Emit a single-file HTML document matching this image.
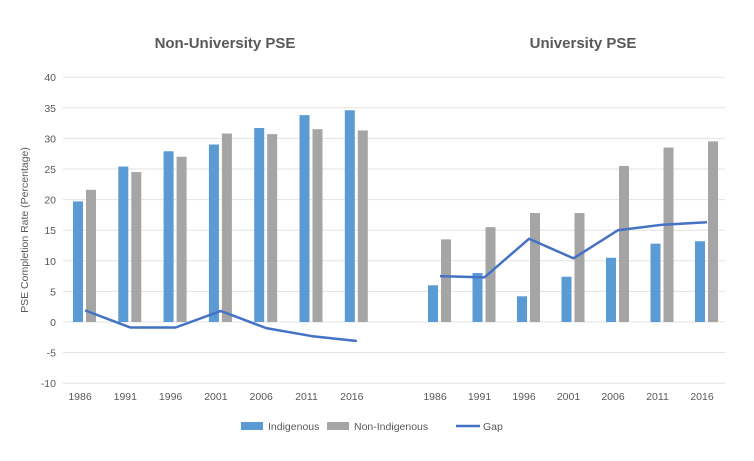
<!DOCTYPE html>
<html><head><meta charset="utf-8"><style>
body{margin:0;background:#fff;font-family:"Liberation Sans",sans-serif}
svg text{font-family:"Liberation Sans",sans-serif}
</style></head><body>
<svg width="754" height="456">
<script>
var categories=["1986","1991","1996","2001","2006","2011","2016"];
var nonUniIndig=[19.7,25.4,27.9,29.0,31.7,33.8,34.6];
var nonUniNon=[21.6,24.5,27.0,30.8,30.7,31.5,31.3];
var nonUniGap=[1.9,-0.9,-0.9,1.8,-1.0,-2.3,-3.1];
var uniIndig=[6.0,8.0,4.2,7.4,10.5,12.8,13.2];
var uniNon=[13.5,15.5,17.8,17.8,25.5,28.5,29.5];
var uniGap=[7.5,7.3,13.6,10.4,15.0,15.9,16.3];
var yTicks=[40,35,30,25,20,15,10,5,0,-5,-10];
</script>
<text x="225" y="48" text-anchor="middle" font-size="15" font-weight="bold" fill="#595959">Non-University PSE</text>
<text x="583" y="48" text-anchor="middle" font-size="15" font-weight="bold" fill="#595959">University PSE</text>
<text transform="translate(28,230) rotate(-90)" text-anchor="middle" font-size="10.5" fill="#595959">PSE Completion Rate (Percentage)</text>
<g id="grid"></g><g id="bars"></g><g id="lines"></g><g id="labels"></g>
<g font-size="10.5" fill="#595959">
<rect x="241" y="422" width="22" height="8" fill="#5b9bd5"/>
<text x="268" y="430">Indigenous</text>
<rect x="327" y="422" width="22" height="8" fill="#a5a5a5"/>
<text x="354" y="430">Non-Indigenous</text>
<line x1="456" y1="426" x2="480" y2="426" stroke="#4472c4" stroke-width="2.5"/>
<text x="483" y="430">Gap</text>
</g>
<script>
var NS="http://www.w3.org/2000/svg";
function y(v){return 322-v*6.12;}
function xl(i){return 85+i*45.3;}
function xr(i){return 440+i*44.5;}
function mk(t,a,p){var e=document.createElementNS(NS,t);for(var k in a)e.setAttribute(k,a[k]);document.getElementById(p).appendChild(e);return e;}
yTicks.forEach(function(t){
 var l=mk("line",{x1:63,x2:725,y1:y(t),y2:y(t),stroke:"#e3e3e3","stroke-width":1},"grid");
 
 
 var tx=mk("text",{x:56,y:y(t)+4,"text-anchor":"end","font-size":"10.5",fill:"#595959"},"labels");
 tx.textContent=t;
 
 
});
function bars(vals,xf,off,col,name){
 vals.forEach(function(v,i){
  var r=mk("rect",{x:xf(i)+off,y:Math.min(y(v),y(0)),width:10,height:Math.abs(y(v)-y(0)),fill:col},"bars");
  
  
 });
}
bars(nonUniIndig,xl,-12,"#5b9bd5","bar-non-university-indigenous");
bars(nonUniNon,xl,1,"#a5a5a5","bar-non-university-non-indigenous");
bars(uniIndig,xr,-12,"#5b9bd5","bar-university-indigenous");
bars(uniNon,xr,1,"#a5a5a5","bar-university-non-indigenous");
function line(vals,xf,name){
 var p=mk("polyline",{points:vals.map(function(v,i){return xf(i)+","+y(v);}).join(" "),fill:"none",stroke:"#4472c4","stroke-width":2.5,"stroke-linejoin":"round"},"lines");
 
 
}
line(nonUniGap,xl,"gap-line-non-university");
line(uniGap,xr,"gap-line-university");
categories.forEach(function(c,i){
 [[xl,"x-tick-label-non-university"],[xr,"x-tick-label-university"]].forEach(function(f){
  var t=mk("text",{x:f[0](i)-5,y:400,"text-anchor":"middle","font-size":"10.5",fill:"#595959"},"labels");
  t.textContent=c;
  
  
 });
});
</script>
</svg>
</body></html>
